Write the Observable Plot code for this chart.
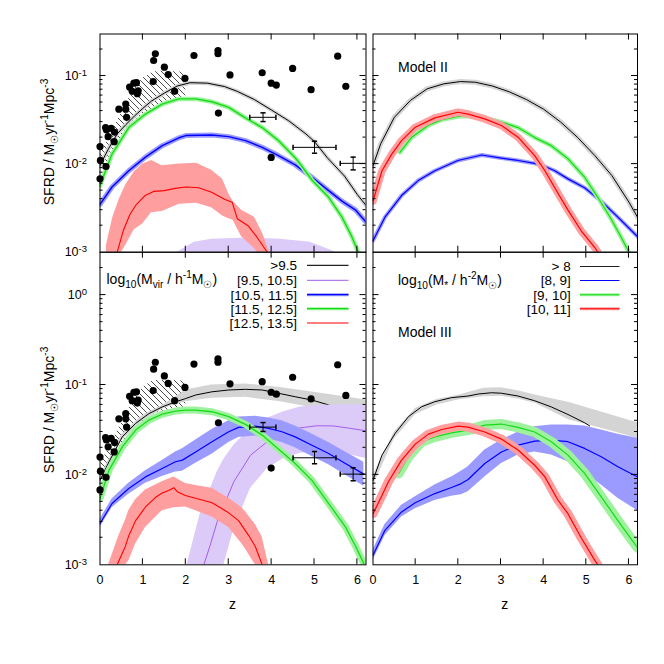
<!DOCTYPE html>
<html><head><meta charset="utf-8">
<script src="https://cdn.jsdelivr.net/npm/d3@7"></script>
<script src="https://cdn.jsdelivr.net/npm/@observablehq/plot@0.6"></script>
<style>
body{margin:0;background:#fff;}
#wrap{position:relative;width:664px;height:664px;background:#fff;font-family:"Liberation Sans",Arial,Helvetica,sans-serif;}
</style></head><body><div id="wrap"></div>
<script>
// ---------------- data ----------------
const xTicks = [0, 1, 2, 3, 4, 5, 6];
const yLabelsTop = [1e-3, 1e-2, 1e-1];
const yLabelsBottom = [1e-3, 1e-2, 1e-1, 1];
const haloLegend = [">9.5", "[9.5, 10.5]", "[10.5, 11.5]", "[11.5, 12.5]", "[12.5, 13.5]"];
const starLegend = ["> 8", "[8, 9]", "[9, 10]", "[10, 11]"];

// observational points (both left panels)
const obsZ = [0.0, 0.01, 0.0, 0.13, 0.15, 0.26, 0.19, 0.34, 0.14, 0.33, 0.44, 0.60, 0.60, 0.62, 0.69, 0.75, 0.79, 0.85, 0.89, 0.87, 1.25, 1.29, 1.24, 1.50, 1.59, 1.74, 1.98, 2.19, 2.75, 2.75, 2.76, 3.03, 3.78, 3.99, 3.99, 4.11, 4.49, 4.92, 5.54, 5.73];
const obsV = [0.0158, 0.011, 0.0068, 0.026, 0.0245, 0.0255, 0.0205, 0.023, 0.0094, 0.018, 0.042, 0.048, 0.042, 0.034, 0.075, 0.067, 0.083, 0.084, 0.068, 0.063, 0.150, 0.179, 0.0866, 0.126, 0.104, 0.067, 0.094, 0.171, 0.195, 0.179, 0.038, 0.103, 0.109, 0.083, 0.0119, 0.079, 0.122, 0.070, 0.168, 0.0766];
// error-bar points
const errZ = [3.8, 5.0, 5.9];
const errV = [0.034, 0.0155, 0.0102];
const errZlo = [3.49, 4.5, 5.6];
const errZhi = [4.1, 5.5, 6.35];
const errVlo = [0.0304, 0.0133, 0.0086];
const errVhi = [0.0382, 0.0182, 0.0120];
// hatched fit region
const hbZ = [0, 0.25, 0.5, 0.75, 1.0, 1.25, 1.5, 1.75, 2.0];
const hbLo = [0.0078, 0.012, 0.018, 0.026, 0.035, 0.044, 0.051, 0.055, 0.057];
const hbHi = [0.013, 0.022, 0.038, 0.065, 0.095, 0.112, 0.113, 0.112, 0.110];

// ---- top-left panel ----
const tlBlackZ = [0, 0.2, 0.4, 0.6, 0.8, 1.0, 1.2, 1.5, 1.8, 2.1, 2.5, 2.9, 3.2, 3.6, 4.0, 4.4, 4.8, 5.0, 5.3, 5.7, 6.0, 6.2];
const tlBlackV = [0.0097, 0.015, 0.022, 0.028, 0.035, 0.043, 0.052, 0.064, 0.077, 0.084, 0.083, 0.076, 0.067, 0.054, 0.041, 0.031, 0.022, 0.018, 0.0118, 0.0073, 0.0045, 0.0034];
const tlGreenZ = [0, 0.28, 0.67, 1.06, 1.45, 1.84, 2.23, 2.61, 3.0, 3.39, 3.78, 4.16, 4.55, 4.71, 4.94, 5.33, 5.64, 5.87, 6.02];
const tlGreenV = [0.0057, 0.013, 0.026, 0.037, 0.048, 0.055, 0.055, 0.051, 0.044, 0.0335, 0.026, 0.0185, 0.0118, 0.0094, 0.0066, 0.0042, 0.0025, 0.0015, 0.001];
const tlBlueZ = [0, 0.28, 0.67, 1.06, 1.45, 1.84, 2.0, 2.61, 3.0, 3.39, 3.78, 4.16, 4.55, 4.94, 5.33, 5.64, 5.96, 6.2];
const tlBlueV = [0.0035, 0.0055, 0.0084, 0.012, 0.0162, 0.0199, 0.0211, 0.0214, 0.0205, 0.0185, 0.0155, 0.0125, 0.0098, 0.0071, 0.0050, 0.0038, 0.0030, 0.0022];
const tlRedZ = [0.4, 0.55, 0.7, 0.85, 1.05, 1.25, 1.5, 1.75, 2.0, 2.3, 2.6, 2.9, 3.08, 3.2, 3.45, 3.65, 3.9];
const tlRedV = [0.001, 0.0018, 0.0027, 0.0035, 0.0044, 0.0049, 0.0050, 0.0053, 0.0055, 0.0054, 0.0048, 0.0040, 0.0037, 0.0024, 0.0020, 0.0015, 0.001];
const tlRedBandZ = [0.15, 0.3, 0.45, 0.6, 0.8, 1.0, 1.2, 1.45, 1.85, 2.25, 2.6, 2.85, 3.0, 3.1, 3.3, 3.6, 3.8, 3.95];
const tlRedBandHi = [0.0012, 0.0025, 0.004, 0.0058, 0.0082, 0.0100, 0.0110, 0.0096, 0.0100, 0.0102, 0.0085, 0.0068, 0.0046, 0.0038, 0.0030, 0.0025, 0.0016, 0.001];
const tlRedBandLo = [0.0004, 0.0006, 0.0009, 0.0012, 0.0018, 0.0021, 0.0028, 0.0029, 0.0035, 0.0036, 0.0032, 0.0026, 0.0024, 0.0023, 0.0015, 0.0011, 0.0008, 0.0006];
const tlPurpleBandZ = [1.8, 2.2, 2.6, 3.4, 4.2, 4.9, 5.5];
const tlPurpleBandHi = [0.001, 0.0013, 0.0014, 0.00145, 0.0014, 0.0013, 0.001];
const tlPurpleBandLo = [0.0003, 0.0003, 0.0003, 0.0003, 0.0003, 0.0003, 0.0003];

// ---- top-right panel (Model II) ----
const trBlackZ = [0, 0.18, 0.5, 0.88, 1.27, 1.66, 2.05, 2.4, 2.8, 3.2, 3.6, 4.0, 4.4, 4.8, 5.2, 5.6, 6.0, 6.2];
const trBlackV = [0.0096, 0.017, 0.034, 0.053, 0.0716, 0.0815, 0.0866, 0.085, 0.077, 0.066, 0.054, 0.042, 0.030, 0.020, 0.0125, 0.0074, 0.0037, 0.0025];
const trBlueZ = [0, 0.28, 0.67, 1.06, 1.45, 1.99, 2.55, 3.01, 3.4, 3.79, 4.03, 4.26, 4.57, 4.96, 5.35, 5.74, 6.2];
const trBlueV = [0.00135, 0.0025, 0.0044, 0.0065, 0.0084, 0.011, 0.0127, 0.0117, 0.011, 0.0102, 0.0094, 0.0084, 0.0068, 0.0054, 0.0038, 0.0025, 0.0015];
const trGreenZ = [0.63, 0.9, 1.29, 1.6, 1.99, 2.23, 2.62, 3.01, 3.4, 3.79, 4.18, 4.57, 4.96, 5.27, 5.58, 5.81, 6.0];
const trGreenV = [0.0136, 0.020, 0.0274, 0.0318, 0.0347, 0.0352, 0.0335, 0.030, 0.026, 0.020, 0.0162, 0.0115, 0.0071, 0.0042, 0.0024, 0.0015, 0.001];
const trRedZ = [0, 0.21, 0.44, 0.67, 0.98, 1.45, 1.99, 2.23, 2.62, 3.01, 3.4, 3.79, 4.03, 4.26, 4.57, 4.88, 5.2, 5.27];
const trRedV = [0.0038, 0.0084, 0.013, 0.0185, 0.026, 0.0335, 0.0388, 0.037, 0.0326, 0.0274, 0.0202, 0.0125, 0.0084, 0.0054, 0.003, 0.00175, 0.00113, 0.001];

// ---- bottom-left panel ----
const blBlackZ = [0, 0.21, 0.52, 0.83, 1.14, 1.45, 1.76, 1.99, 2.23, 2.61, 3.0, 3.39, 3.78, 4.17, 4.55, 4.94, 5.33, 5.45];
const blBlackV = [0.0087, 0.014, 0.0265, 0.0374, 0.048, 0.057, 0.065, 0.0705, 0.0774, 0.084, 0.088, 0.0895, 0.088, 0.0807, 0.074, 0.068, 0.060, 0.0565];
const blGrayBandZ = [0, 0.5, 1.0, 1.5, 2.0, 2.6, 3.4, 4.2, 4.9, 5.7, 6.2];
const blGrayBandHi = [0.0095, 0.028, 0.046, 0.061, 0.088, 0.100, 0.1026, 0.094, 0.084, 0.074, 0.068];
const blGrayBandLo = [0.0080, 0.024, 0.040, 0.055, 0.065, 0.071, 0.073, 0.065, 0.0565, 0.052, 0.049];
const blPurpleZ = [2.42, 2.57, 2.73, 2.89, 3.12, 3.51, 3.9, 4.28, 4.67, 5.06, 5.45, 5.84, 6.2];
const blPurpleV = [0.001, 0.00166, 0.003, 0.0046, 0.0084, 0.0166, 0.0234, 0.030, 0.0334, 0.0352, 0.035, 0.0329, 0.031];
const blPurpleBandZ = [2.03, 2.33, 2.73, 2.89, 3.12, 3.51, 3.9, 4.28, 4.67, 5.06, 5.45, 5.84, 6.2];
const blPurpleBandHi = [0.001, 0.0036, 0.0108, 0.015, 0.0214, 0.0329, 0.0426, 0.0505, 0.057, 0.059, 0.060, 0.060, 0.060];
const blPurpleBandLo = [0.0002, 0.0003, 0.0005, 0.001, 0.0025, 0.0071, 0.0118, 0.0152, 0.0174, 0.018, 0.018, 0.0166, 0.0152];
const blBlueZ = [0, 0.28, 0.67, 1.06, 1.45, 1.76, 1.92, 2.23, 2.61, 3.0, 3.23, 3.62, 3.93, 4.24, 4.55, 4.94, 5.33, 5.72, 6.15];
const blBlueV = [0.00288, 0.0048, 0.00706, 0.0095, 0.0118, 0.014, 0.0146, 0.018, 0.0234, 0.0302, 0.0338, 0.0349, 0.0329, 0.0302, 0.0265, 0.0214, 0.0173, 0.0134, 0.0102];
const blBlueBandHi = [0.0032, 0.0054, 0.0081, 0.0111, 0.0145, 0.018, 0.0195, 0.0245, 0.032, 0.040, 0.044, 0.045, 0.043, 0.040, 0.035, 0.0285, 0.023, 0.018, 0.0138];
const blBlueBandLo = [0.0026, 0.0043, 0.0061, 0.0081, 0.0096, 0.0108, 0.011, 0.0135, 0.017, 0.023, 0.026, 0.027, 0.025, 0.023, 0.020, 0.016, 0.013, 0.010, 0.0075];
const blGreenZ = [0, 0.21, 0.52, 0.83, 1.14, 1.45, 1.76, 1.99, 2.23, 2.61, 3.0, 3.39, 3.78, 4.17, 4.55, 4.94, 5.33, 5.72, 5.96, 6.15];
const blGreenV = [0.00546, 0.0113, 0.0205, 0.0315, 0.0407, 0.0475, 0.0513, 0.0526, 0.0526, 0.0504, 0.0444, 0.0365, 0.0277, 0.0192, 0.0134, 0.0087, 0.0048, 0.00264, 0.0016, 0.00103];
const blRedZ = [0.4, 0.59, 0.67, 0.83, 1.06, 1.29, 1.45, 1.6, 1.72, 1.8, 1.99, 2.23, 2.61, 2.96, 3.23, 3.47, 3.62, 3.78];
const blRedV = [0.001, 0.0016, 0.0021, 0.0031, 0.0044, 0.0056, 0.0063, 0.0067, 0.0072, 0.0065, 0.0059, 0.0055, 0.0049, 0.0039, 0.0031, 0.0021, 0.0016, 0.001];
const blRedBandZ = [0.2, 0.43, 0.6, 0.67, 0.83, 1.06, 1.45, 1.72, 1.99, 2.23, 2.61, 3.0, 3.31, 3.39, 3.62, 3.78, 3.93];
const blRedBandHi = [0.001, 0.00204, 0.0032, 0.0040, 0.0053, 0.0068, 0.0084, 0.0095, 0.0080, 0.0076, 0.0071, 0.0055, 0.0043, 0.0039, 0.0028, 0.00204, 0.001];
const blRedBandLo = [0.0003, 0.0005, 0.001, 0.0011, 0.0017, 0.0026, 0.0040, 0.0043, 0.0044, 0.0040, 0.0034, 0.0026, 0.0017, 0.0015, 0.001, 0.0007, 0.0005];

// ---- bottom-right panel (Model III) ----
const brBlackZ = [0, 0.21, 0.52, 0.83, 1.14, 1.45, 1.84, 2.23, 2.47, 2.78, 3.01, 3.4, 3.79, 4.18, 4.57, 4.96, 5.08];
const brBlackV = [0.0087, 0.0166, 0.029, 0.0444, 0.0573, 0.0652, 0.0723, 0.0754, 0.0794, 0.082, 0.081, 0.0754, 0.0668, 0.057, 0.047, 0.038, 0.035];
const brGrayBandZ = [0, 0.5, 1.0, 1.5, 2.0, 2.6, 3.0, 3.4, 3.8, 4.6, 5.35, 6.2];
const brGrayBandHi = [0.0098, 0.030, 0.055, 0.069, 0.077, 0.092, 0.093, 0.0865, 0.0774, 0.064, 0.050, 0.038];
const brGrayBandLo = [0.0075, 0.025, 0.047, 0.060, 0.068, 0.074, 0.075, 0.070, 0.0625, 0.0407, 0.033, 0.0255];
const brBlueZ = [0, 0.28, 0.67, 0.99, 1.45, 1.84, 2.07, 2.23, 2.62, 3.01, 3.4, 3.79, 4.18, 4.57, 4.96, 5.35, 5.74, 6.2];
const brBlueV = [0.00128, 0.00242, 0.00387, 0.00489, 0.0062, 0.00724, 0.008, 0.0089, 0.0134, 0.018, 0.0214, 0.0238, 0.0244, 0.0234, 0.0197, 0.0159, 0.0123, 0.0095];
const brBlueBandHi = [0.00145, 0.0028, 0.0046, 0.0057, 0.0077, 0.0095, 0.011, 0.0123, 0.0189, 0.0244, 0.030, 0.0343, 0.0358, 0.0358, 0.035, 0.0315, 0.0284, 0.0255];
const brBlueBandLo = [0.00112, 0.0021, 0.0034, 0.0042, 0.0052, 0.0058, 0.006, 0.0065, 0.0095, 0.0134, 0.0166, 0.018, 0.0166, 0.014, 0.0104, 0.0077, 0.0055, 0.004];
const brGreenZ = [0.6, 0.83, 1.14, 1.45, 1.84, 2.23, 2.62, 3.01, 3.4, 3.79, 4.18, 4.57, 4.96, 5.35, 5.74, 6.2];
const brGreenV = [0.0104, 0.0159, 0.0234, 0.0265, 0.0294, 0.0315, 0.0358, 0.0368, 0.0338, 0.030, 0.0234, 0.0166, 0.0104, 0.0057, 0.0031, 0.00155];
const brRedZ = [0, 0.21, 0.36, 0.67, 0.99, 1.3, 1.61, 2.0, 2.23, 2.62, 3.01, 3.4, 3.79, 4.03, 4.34, 4.57, 4.88, 5.2, 5.27];
const brRedV = [0.0037, 0.0059, 0.0084, 0.0146, 0.022, 0.0284, 0.032, 0.0349, 0.034, 0.030, 0.025, 0.0189, 0.0128, 0.0095, 0.0052, 0.0037, 0.002, 0.00112, 0.001];

// ---------------- styles ----------------
const FONT = '"Liberation Sans", Arial, Helvetica, sans-serif';
const LINE = {black: "#000000", purple: "#a35ee8", blue: "#0000ff", green: "#14dd14", red: "#ff0000"};
const BAND = {gray: "#d4d4d4", purple: "#dccbf8", blue: "#9b9bff", green: "#9ef29e", red: "#ff9e9e"};

const pts = (zs, vs) => zs.map((z, i) => ({z, v: vs[i]}));
const band = (zs, lo, hi) => zs.map((z, i) => ({z, lo: lo[i], hi: hi[i]}));

const hCap = {draw(ctx, size) { const r = Math.sqrt(size / Math.PI); ctx.moveTo(-r, 0); ctx.lineTo(r, 0); }};
const vCap = {draw(ctx, size) { const r = Math.sqrt(size / Math.PI); ctx.moveTo(0, -r); ctx.lineTo(0, r); }};

const line = (data, stroke, w) => Plot.line(data, {x: "z", y: "v", stroke, strokeWidth: w, clip: true});
const area = (data, fill) => Plot.areaY(data, {x: "z", y1: "lo", y2: "hi", fill, clip: true});

function observations(hatchId) {
  const obs = pts(obsZ, obsV);
  const err = errZ.map((z, i) => ({z, v: errV[i], zlo: errZlo[i], zhi: errZhi[i], vlo: errVlo[i], vhi: errVhi[i]}));
  return {
    hatch: area(band(hbZ, hbLo, hbHi), `url(#${hatchId})`),
    top: [
      Plot.dot(obs, {x: "z", y: "v", r: 3.6, fill: "black"}),
      Plot.ruleY(err, {y: "v", x1: "zlo", x2: "zhi", stroke: "black", strokeWidth: 1, clip: true}),
      Plot.ruleX(err, {x: "z", y1: "vlo", y2: "vhi", stroke: "black", strokeWidth: 1}),
      Plot.dot(err, {x: "z", y: "vlo", symbol: hCap, r: 2.6, stroke: "black", fill: "none"}),
      Plot.dot(err, {x: "z", y: "vhi", symbol: hCap, r: 2.6, stroke: "black", fill: "none"}),
      Plot.dot(err, {x: "zlo", y: "v", symbol: vCap, r: 2.6, stroke: "black", fill: "none"}),
      Plot.dot(err, {x: "zhi", y: "v", symbol: vCap, r: 2.6, stroke: "black", fill: "none", clip: true})
    ]
  };
}

const wrap = d3.select("#wrap");

function panel(cfg) {
  const plot = Plot.plot({
    width: cfg.width, height: cfg.height,
    marginLeft: cfg.mL, marginRight: cfg.mR, marginTop: cfg.mT, marginBottom: cfg.mB,
    style: {background: "transparent", overflow: "visible", fontFamily: FONT, fontSize: "12.5px", color: "black"},
    x: {domain: [0, 6.2], axis: cfg.showX ? "bottom" : null, ticks: xTicks, tickSize: 0, tickPadding: 10, label: null, tickFormat: d => String(d)},
    y: {type: "log", domain: cfg.yDomain, axis: cfg.showY ? "left" : null, ticks: cfg.yLabels, tickSize: 0, tickPadding: 13, label: null,
        tickFormat: d => "10^" + Math.round(Math.log10(d))},
    marks: [...cfg.marks, Plot.frame({stroke: "black", strokeWidth: 1})]
  });
  plot.style.position = "absolute";
  plot.style.left = cfg.left + "px";
  plot.style.top = cfg.top + "px";
  const svg = d3.select(plot);
  if (cfg.hatchId) {
    const defs = svg.insert("defs", ":first-child");
    const pat = defs.append("pattern").attr("id", cfg.hatchId).attr("patternUnits", "userSpaceOnUse").attr("width", 6).attr("height", 6);
    pat.append("path").attr("d", "M0,0L6,6M-3,3L3,9M3,-3L9,3").attr("stroke", "black").attr("stroke-width", 0.7).attr("fill", "none");
  }
  // exponent labels 10^n -> 10 with superscript
  svg.selectAll("text").each(function () {
    const m = /^10\^(-?\d+)$/.exec(this.textContent);
    if (!m) return;
    const t = d3.select(this);
    t.text("10");
    t.append("tspan").attr("dy", "-0.45em").attr("font-size", "9.5px").text(m[1]);
  });
  // inward ticks on all four sides
  const sx = plot.scale("x"), sy = plot.scale("y");
  const xs = d3.scaleLinear().domain(sx.domain).range(sx.range);
  const ys = d3.scaleLog().domain(sy.domain).range(sy.range);
  const [xa, xb] = sx.range;
  const yb = Math.max(...sy.range), ya = Math.min(...sy.range);
  const g = svg.append("g").attr("stroke", "black").attr("stroke-width", 1).attr("fill", "none");
  const seg = (x1, y1, x2, y2) => g.append("line").attr("x1", x1).attr("y1", y1).attr("x2", x2).attr("y2", y2);
  for (const t of xTicks) {
    const px = xs(t);
    if (px <= xa + 0.5 || px >= xb - 0.5) continue;
    seg(px, yb, px, yb - 6); seg(px, ya, px, ya + 6);
  }
  const [d0, d1] = sy.domain;
  for (let e = Math.floor(Math.log10(d0)); e <= Math.ceil(Math.log10(d1)); e++) {
    for (let k = 1; k <= 9; k++) {
      const v = k * Math.pow(10, e);
      if (v < d0 * 0.999 || v > d1 * 1.001) continue;
      const py = ys(v), len = k === 1 ? 6 : 3;
      if (py >= yb - 0.5 || py <= ya + 0.5) continue;
      seg(xa, py, xa + len, py); seg(xb, py, xb - len, py);
    }
  }
  wrap.node().appendChild(plot);
  return plot;
}

// ---------------- panels ----------------
const obsTL = observations("hatchTL");
panel({
  left: 0, top: 0, width: 370, height: 256, mL: 99.5, mR: 4.5, mT: 33.5, mB: 4.3,
  yDomain: [1e-3, 0.3], yLabels: yLabelsTop, showY: true, showX: false, hatchId: "hatchTL",
  marks: [
    obsTL.hatch,
    line(pts(tlBlackZ, tlBlackV), BAND.gray, 4),
    line(pts(tlBlackZ, tlBlackV), LINE.black, 1),
    area(band(tlPurpleBandZ, tlPurpleBandLo, tlPurpleBandHi), BAND.purple),
    line(pts(tlBlueZ, tlBlueV), BAND.blue, 5),
    line(pts(tlBlueZ, tlBlueV), LINE.blue, 1.4),
    line(pts(tlGreenZ, tlGreenV), BAND.green, 4.5),
    line(pts(tlGreenZ, tlGreenV), LINE.green, 1.4),
    area(band(tlRedBandZ, tlRedBandLo, tlRedBandHi), BAND.red),
    line(pts(tlRedZ, tlRedV), LINE.red, 1.1),
    ...obsTL.top
  ]
});

panel({
  left: 368, top: 0, width: 275, height: 256, mL: 4.5, mR: 6, mT: 33.5, mB: 4.3,
  yDomain: [1e-3, 0.3], yLabels: yLabelsTop, showY: false, showX: false,
  marks: [
    line(pts(trBlackZ, trBlackV), BAND.gray, 5),
    line(pts(trBlackZ, trBlackV), LINE.black, 1),
    line(pts(trBlueZ, trBlueV), BAND.blue, 4),
    line(pts(trBlueZ, trBlueV), LINE.blue, 1.2),
    line(pts(trGreenZ, trGreenV), BAND.green, 4.5),
    line(pts(trGreenZ, trGreenV), LINE.green, 1.2),
    line(pts(trRedZ, trRedV), BAND.red, 7.5),
    line(pts(trRedZ, trRedV), LINE.red, 1.2)
  ]
});

const obsBL = observations("hatchBL");
panel({
  left: 0, top: 248, width: 370, height: 416, mL: 99.5, mR: 4.5, mT: 3.7, mB: 99.7,
  yDomain: [1e-3, 3], yLabels: yLabelsBottom, showY: true, showX: true, hatchId: "hatchBL",
  marks: [
    obsBL.hatch,
    area(band(blGrayBandZ, blGrayBandLo, blGrayBandHi), BAND.gray),
    line(pts(blBlackZ, blBlackV), LINE.black, 1),
    area(band(blPurpleBandZ, blPurpleBandLo, blPurpleBandHi), BAND.purple),
    line(pts(blPurpleZ, blPurpleV), LINE.purple, 1),
    area(band(blBlueZ, blBlueBandLo, blBlueBandHi), BAND.blue),
    line(pts(blBlueZ, blBlueV), LINE.blue, 1.2),
    line(pts(blGreenZ, blGreenV), BAND.green, 7),
    line(pts(blGreenZ, blGreenV), LINE.green, 1.3),
    area(band(blRedBandZ, blRedBandLo, blRedBandHi), BAND.red),
    line(pts(blRedZ, blRedV), LINE.red, 1.1),
    ...obsBL.top
  ]
});

panel({
  left: 368, top: 248, width: 275, height: 416, mL: 4.5, mR: 6, mT: 3.7, mB: 99.7,
  yDomain: [1e-3, 3], yLabels: yLabelsBottom, showY: false, showX: true,
  marks: [
    area(band(brGrayBandZ, brGrayBandLo, brGrayBandHi), BAND.gray),
    line(pts(brBlackZ, brBlackV), LINE.black, 1),
    area(band(brBlueZ, brBlueBandLo, brBlueBandHi), BAND.blue),
    line(pts(brBlueZ, brBlueV), LINE.blue, 1.2),
    line(pts(brGreenZ, brGreenV), BAND.green, 10),
    line(pts(brGreenZ, brGreenV), LINE.green, 1.2),
    line(pts(brRedZ, brRedV), BAND.red, 9),
    line(pts(brRedZ, brRedV), LINE.red, 1.2)
  ]
});

// ---------------- overlay texts & legends ----------------
const ov = wrap.append("svg").attr("width", 664).attr("height", 664)
  .style("position", "absolute").style("left", "0px").style("top", "0px")
  .style("pointer-events", "none").style("font-family", FONT);

function rich(x, y, parts, {anchor = "start", size = 14, rotate = 0} = {}) {
  const t = ov.append("text").attr("font-size", size).attr("text-anchor", anchor).attr("fill", "black");
  if (rotate) t.attr("transform", `translate(${x},${y}) rotate(${rotate})`);
  else t.attr("x", x).attr("y", y);
  let cur = 0;
  for (const [s, k] of parts) {
    const off = k === "sup" ? -0.42 * size : k === "sub" ? 0.28 * size : 0;
    const ts = t.append("tspan").text(s);
    if (off !== cur) ts.attr("dy", off - cur);
    if (k) ts.attr("font-size", size * 0.72);
    cur = off;
  }
  return t;
}
const sfrd = [["SFRD / M"], ["\u2609", "sub"], ["yr"], ["-1", "sup"], ["Mpc"], ["-3", "sup"]];
rich(54, 142, sfrd, {anchor: "middle", rotate: -90});
rich(54, 410, sfrd, {anchor: "middle", rotate: -90});
rich(232.5, 609, [["z"]], {anchor: "middle"});
rich(504.7, 609, [["z"]], {anchor: "middle"});
rich(398, 71.5, [["Model II"]]);
rich(398, 337, [["Model III"]]);
rich(106.5, 284, [["log"], ["10", "sub"], ["(M"], ["vir", "sub"], [" / h"], ["-1", "sup"], ["M"], ["\u2609", "sub"], [")"]]);
rich(398, 285, [["log"], ["10", "sub"], ["(M"], ["*", "sub"], [" / h"], ["-2", "sup"], ["M"], ["\u2609", "sub"], [")"]]);

const haloRowsY = [265.3, 280.3, 294.7, 308.7, 323];
const haloStyle = [
  {c: "#222", w: 1.2}, {c: LINE.purple, w: 1}, {c: LINE.blue, w: 1.2, b: BAND.blue}, {c: LINE.green, w: 1.2, b: BAND.green}, {c: LINE.red, w: 1.1}
];
haloLegend.forEach((lab, i) => {
  const y = haloRowsY[i], s = haloStyle[i];
  rich(297, y + 4.8, [[lab]], {anchor: "end", size: 13.5});
  if (s.b) ov.append("line").attr("x1", 307).attr("x2", 348.5).attr("y1", y).attr("y2", y).attr("stroke", s.b).attr("stroke-width", 3);
  ov.append("line").attr("x1", 307).attr("x2", 348.5).attr("y1", y).attr("y2", y).attr("stroke", s.c).attr("stroke-width", s.w);
});
const starRowsY = [266.5, 280.5, 294.8, 308.8];
const starStyle = [
  {c: "#222", w: 1.2}, {c: LINE.blue, w: 1.1}, {c: LINE.green, w: 1.1, b: BAND.green}, {c: LINE.red, w: 1.1, b: BAND.red}
];
starLegend.forEach((lab, i) => {
  const y = starRowsY[i], s = starStyle[i];
  rich(570.7, y + 4.8, [[lab]], {anchor: "end", size: 13.5});
  if (s.b) ov.append("line").attr("x1", 580).attr("x2", 619.5).attr("y1", y).attr("y2", y).attr("stroke", s.b).attr("stroke-width", 3);
  ov.append("line").attr("x1", 580).attr("x2", 619.5).attr("y1", y).attr("y2", y).attr("stroke", s.c).attr("stroke-width", s.w);
});
</script></body></html>
